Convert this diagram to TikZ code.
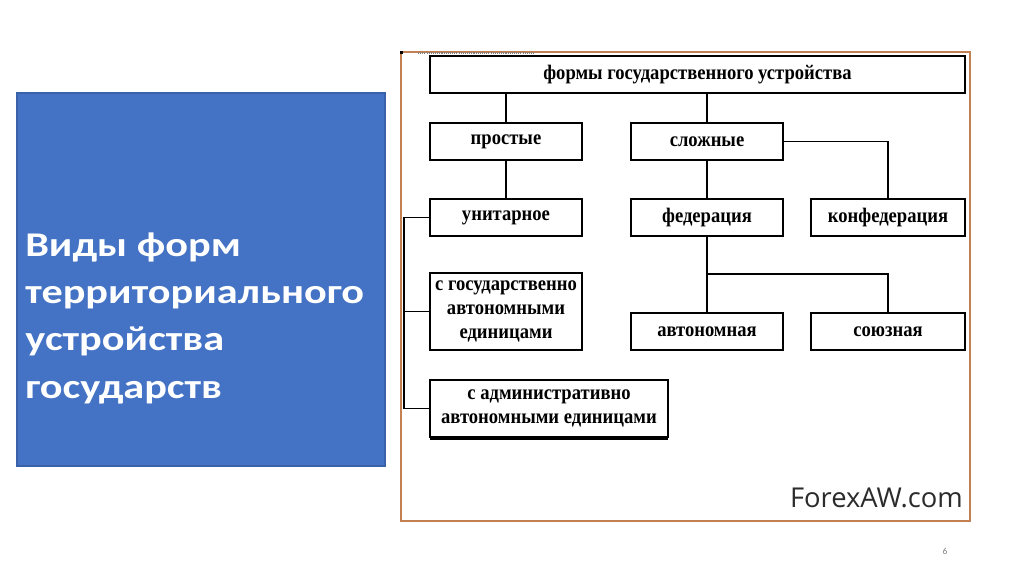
\documentclass[tikz,border=0pt]{standalone}
\usepackage{fontspec}
\setmainfont{Liberation Serif}
\newfontfamily\boxfont[FakeStretch=0.9]{Liberation Serif}
\newfontfamily\titlefont[FakeStretch=1.22]{Carlito}
\newfontfamily\pagefont{Carlito}
\newfontfamily\markfont{Open Sans}
\definecolor{slideblue}{HTML}{4472C4}
\definecolor{slideblueedge}{HTML}{3A62AA}
\definecolor{frameorange}{HTML}{C47F52}
\definecolor{marktext}{HTML}{2B2B2B}
\begin{document}
\begin{tikzpicture}[x=0.75pt,y=-0.75pt,
  box/.style={draw=black,line width=0.9pt,fill=white,inner sep=0pt,outer sep=0pt,
    minimum height=37*0.75pt,minimum width=152*0.75pt,align=center,
    font=\boxfont\fontsize{15.5pt}{18pt}\selectfont\bfseries},
  link/.style={draw=black,line width=0.9pt}]
\useasboundingbox (0,0) rectangle (1024,574);
\fill[white] (0,0) rectangle (1024,574);
% left title panel
\node[draw=slideblueedge,fill=slideblue,line width=0.8pt,inner sep=0pt,minimum width=368*0.75pt,minimum height=373*0.75pt] (panel) at (201,279.5) {};
\node[anchor=west,align=left,text=white,inner sep=0pt,font=\titlefont\bfseries\fontsize{26pt}{35.5pt}\selectfont] (title) at (25,318)
  {Виды форм\\территориального\\устройства\\государств};
% frame of the scheme
\draw[frameorange,line width=1.1pt] (401,52) rectangle (970,521);
\draw[gray,line width=1.2pt,dash pattern=on 0.8pt off 0.8pt] (418,53) -- (535,53);
\fill[black] (400,51) rectangle (403,54);
% boxes
\node[box,minimum width=535*0.75pt] (top) at (697.5,74.5) {формы государственного устройства};
\node[box] (simple) at (506,141.5) {простые};
\node[box] (complex) at (707,141.5) {сложные};
\node[box] (unit) at (506,217.5) {унитарное};
\node[box] (fed) at (707,217.5) {федерация};
\node[box,minimum width=154*0.75pt] (conf) at (888,217.5) {конфедерация};
\node[box,minimum height=77*0.75pt] (gos) at (506,311.5) {с государственно\\автономными\\единицами};
\node[box] (auto) at (707,331.5) {автономная};
\node[box,minimum width=154*0.75pt] (union) at (888,331.5) {союзная};
\node[box,minimum width=238*0.75pt,minimum height=57*0.75pt] (adm) at (549,408.5) {с административно\\автономными единицами};
\draw[black,line width=2.2pt] ([yshift=-1.4pt]adm.south west) -- ([yshift=-1.4pt]adm.south east);
% connectors
\draw[link] (top.south -| simple.north) -- (simple.north);
\draw[link] (top.south -| complex.north) -- (complex.north);
\draw[link] (simple.south) -- (unit.north);
\draw[link] (complex.south) -- (fed.north);
\draw[link] (complex.east) -| (conf.north);
\draw[link] (fed.south) -- (auto.north);
\coordinate (split) at (707,274);
\draw[link] (split) -| (union.north);
\coordinate (lt) at (404,217.5);
\coordinate (lb) at (404,408.5);
\draw[link] (unit.west) -- (lt) -- (lb) -- (adm.west);
\draw[link] (gos.west) -- (gos.west -| lt);
% watermark and page number
\node[anchor=base east,inner sep=0pt,text=marktext,font=\markfont\fontsize{20.5pt}{24pt}\selectfont] (mark) at (963,507) {ForexAW.com};
\node[inner sep=0pt,text=gray,font=\pagefont\fontsize{7pt}{8pt}\selectfont] (page) at (945,551) {6};
\end{tikzpicture}
\end{document}
